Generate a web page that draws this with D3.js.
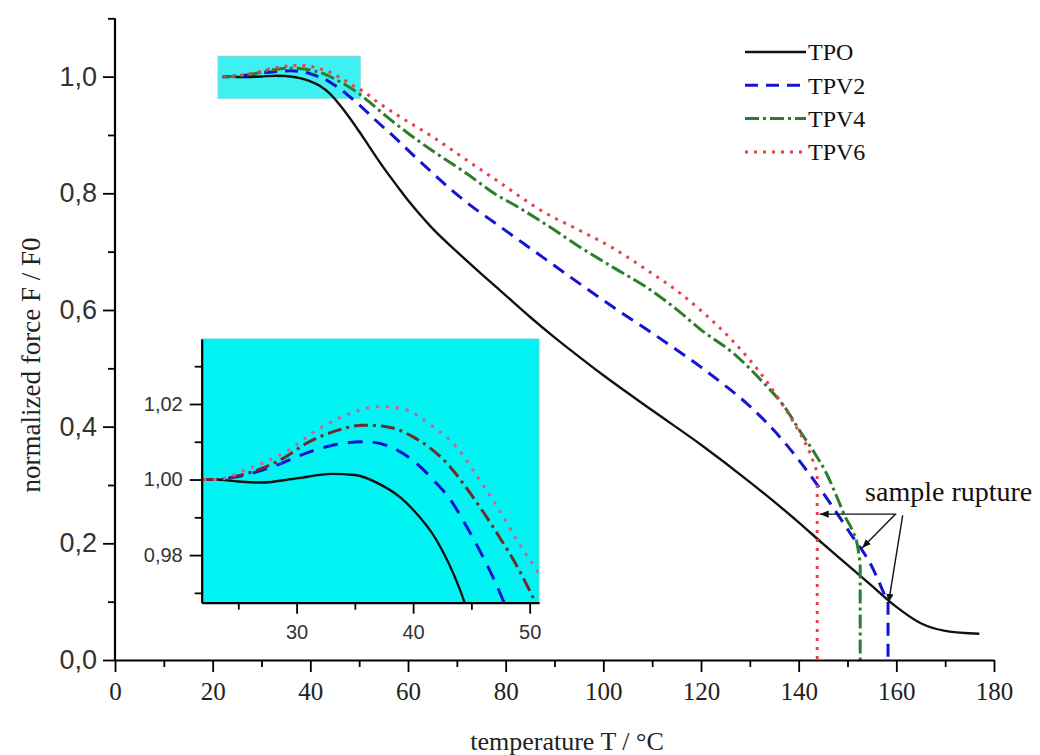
<!DOCTYPE html>
<html><head><meta charset="utf-8">
<script src="https://cdn.jsdelivr.net/npm/d3@7"></script>
<style>
html,body{margin:0;padding:0;background:#fff;}
svg{display:block;}
</style></head>
<body>
<svg id="chart" width="1040" height="755"></svg>
<script>
// ---------------- data ----------------
const seriesNames = ["TPO", "TPV2", "TPV4", "TPV6"];

const tpoT = [22,23,25,27,30,33,35,37,39,40,42,44,46,48,50,52,55,58,60,62,65,70,75,80,85,90,95,100,110,120,130,140,145,150,155,160,165,170,177];
const tpoF = [1.000,1.000,0.9995,0.9992,1.0003,1.0015,1.0012,0.999,0.995,0.992,0.984,0.971,0.952,0.930,0.906,0.881,0.844,0.810,0.788,0.768,0.740,0.700,0.662,0.625,0.588,0.553,0.520,0.488,0.428,0.369,0.305,0.236,0.199,0.163,0.127,0.091,0.063,0.050,0.045];

const tpv2T = [22,23,25,28,31,33,36,38,40,42,43,44.6,46,47.1,48,50,53,57,61,65,69,73,77,82,88,95,102,109,116,120,125,130,137,144,150.5,155,158.3];
const tpv2F = [1.000,1.000,1.0008,1.0035,1.0072,1.009,1.010,1.0087,1.005,0.999,0.9955,0.9875,0.9795,0.9725,0.966,0.952,0.928,0.898,0.866,0.835,0.805,0.778,0.754,0.724,0.688,0.646,0.605,0.566,0.526,0.502,0.470,0.435,0.374,0.298,0.218,0.160,0.097];

const tpv4T = [22,23,25,28.3,31.4,33.5,35.7,37.7,40,42.9,45.1,47.4,49.1,50.4,52,55.7,60,65,72,78,82,88,95,102,109,115,120,126.6,132.7,137,140.3,143,145.8,148,149.5,151,152,152.6];
const tpv4F = [1.000,1.000,1.001,1.0047,1.0105,1.013,1.0144,1.014,1.0113,1.0043,0.9955,0.9848,0.976,0.968,0.957,0.931,0.903,0.873,0.834,0.798,0.779,0.748,0.709,0.673,0.638,0.601,0.566,0.526,0.476,0.435,0.392,0.358,0.318,0.276,0.246,0.222,0.198,0.165];

const tpv6T = [22,23,26,29.1,32,34.3,37.1,38.9,41.7,43.7,45.7,47.4,49.1,50.6,54,58.4,65,72,78,88,95,102,109,115.7,120,126.6,133.5,138.9,142.3,143.8];
const tpv6F = [1.000,1.000,1.003,1.0074,1.0136,1.0171,1.0193,1.0189,1.014,1.0087,0.9999,0.9919,0.983,0.976,0.955,0.931,0.897,0.857,0.823,0.767,0.737,0.706,0.668,0.629,0.599,0.546,0.477,0.408,0.355,0.322];

// temperature at which each sample ruptured (vertical drop to zero), null = no drop
const ruptureT = [null, 158.3, 152.6, 143.8];

// axis ticks
const xTicks = [0,20,40,60,80,100,120,140,160,180];
const xTickLabels = ["0","20","40","60","80","100","120","140","160","180"];
const xMinor = [10,30,50,70,90,110,130,150,170];
const yTicks = [0,0.2,0.4,0.6,0.8,1.0];
const yTickLabels = ["0,0","0,2","0,4","0,6","0,8","1,0"];
const yMinor = [0.1,0.3,0.5,0.7,0.9,1.1];

const insetXTicks = [30,40,50];
const insetXTickLabels = ["30","40","50"];
const insetXMinor = [25,35,45];
const insetYTicks = [0.98,1.00,1.02];
const insetYTickLabels = ["0,98","1,00","1,02"];
const insetYMinor = [0.97,0.99,1.01,1.03];

// zoom window (data units) shown in the inset
const zoomX = [21.1, 50.2];
const zoomY = [0.963, 1.035];

const xTitle = "temperature T / °C";
const yTitle = "normalized force F / F0";
const annotationText = "sample rupture";
// annotation anchor and arrows (data units)
const annotationAt = [153.6, 0.273];
const arrowFrom = [[160.0,0.25],[159.8,0.25],[161.3,0.248]];
const arrowTo   = [[144.3,0.25],[153.0,0.192],[158.4,0.098]];

// ---------------- styles ----------------
const colors = ["#111111", "#1414d2", "#2d7d2d", "#e8404f"];
const insetColors = ["#111111", "#1414d2", "#6e2b2b", "#d65a94"];
const dashes = [null, "13,8", "14,4,3,4", "3,6"];
const insetDashes = [null, "15,10", "14,5,3,5", "3,7"];
const widths = [2.4, 3, 3, 3];

// ---------------- drawing ----------------
const svg = d3.select("#chart");
const serif = "'Liberation Serif', 'Times New Roman', serif";
const sans = "'Liberation Sans', Arial, sans-serif";

const x = d3.scaleLinear().domain([0,180]).range([115,994]);
const y = d3.scaleLinear().domain([0,1.1]).range([660,18.3]);

const allT = [tpoT, tpv2T, tpv4T, tpv6T];
const allF = [tpoF, tpv2F, tpv4F, tpv6F];
const series = seriesNames.map((n,i)=>({name:n, pts: allT[i].map((t,j)=>[t, allF[i][j]]), rupture: ruptureT[i]}));

// zoom highlight rectangle
svg.append("rect")
  .attr("x", x(zoomX[0])).attr("y", y(zoomY[1]))
  .attr("width", x(zoomX[1]) - x(zoomX[0])).attr("height", y(zoomY[0]) - y(zoomY[1]))
  .attr("fill", "#3ff0f0").attr("stroke", "#7ad8d8").attr("stroke-width", 1);

function pathFor(s, xs, ys){
  const ln = d3.line().x(d=>xs(d[0])).y(d=>ys(d[1])).curve(d3.curveMonotoneX);
  let d = ln(s.pts);
  if (s.rupture !== null) d += `L${xs(s.rupture)},${ys(0)}`;
  return d;
}

// main lines
const gLines = svg.append("g");
series.forEach((s,i)=>{
  gLines.append("path").attr("d", pathFor(s, x, y))
    .attr("fill","none").attr("stroke", colors[i]).attr("stroke-width", widths[i])
    .attr("stroke-dasharray", dashes[i]).attr("stroke-linejoin","round");
});

// main axes
const gx = svg.append("g").attr("transform", `translate(0,${y(0)})`);
gx.call(d3.axisBottom(x).tickValues(xTicks).tickSize(12).tickFormat((d,i)=>xTickLabels[i]).tickSizeOuter(0));
gx.append("g").call(d3.axisBottom(x).tickValues(xMinor).tickSize(7).tickFormat(""))
  .select(".domain").remove();
gx.selectAll("text").attr("font-family", serif).attr("font-size", 25).attr("fill","#222").attr("dy", "0.98em");
gx.selectAll(".domain").attr("stroke-width", 2.2);
gx.selectAll("line").attr("stroke-width", 1.8);

const gy = svg.append("g").attr("transform", `translate(${x(0)},0)`);
gy.call(d3.axisLeft(y).tickValues(yTicks).tickSize(12).tickFormat((d,i)=>yTickLabels[i]).tickSizeOuter(0));
gy.append("g").call(d3.axisLeft(y).tickValues(yMinor).tickSize(7).tickFormat(""))
  .select(".domain").remove();
gy.select(".domain").attr("d", `M0,${y(0)}V${y(1.1)}`);
gy.selectAll("text").attr("font-family", sans).attr("font-size", 27).attr("fill","#333").attr("x", -18);
gy.selectAll(".domain").attr("stroke-width", 2.2);
gy.selectAll("line").attr("stroke-width", 1.8);

// axis titles
svg.append("text").attr("x", 567).attr("y", 750).attr("text-anchor","middle")
  .attr("font-family", serif).attr("font-size", 26).attr("fill","#222").text(xTitle);
svg.append("text").attr("transform", "translate(40,365) rotate(-90)").attr("text-anchor","middle")
  .attr("font-family", serif).attr("font-size", 27).attr("fill","#222").text(yTitle);

// legend
const legY0 = 52, legStep = 33.3;
seriesNames.forEach((n,i)=>{
  const ly = legY0 + i*legStep;
  svg.append("line").attr("x1",745).attr("x2",806).attr("y1",ly).attr("y2",ly)
    .attr("stroke", colors[i]).attr("stroke-width", widths[i]).attr("stroke-dasharray", dashes[i]);
  svg.append("text").attr("x",808).attr("y",ly).attr("dy","0.35em")
    .attr("font-family", serif).attr("font-size", 24).attr("fill","#111").text(n);
});

// annotation
const defs = svg.append("defs");
defs.append("marker").attr("id","arr").attr("viewBox","0 0 10 10").attr("refX",10).attr("refY",5)
  .attr("markerWidth",9).attr("markerHeight",9).attr("markerUnits","userSpaceOnUse").attr("orient","auto")
  .append("path").attr("d","M0,1L10,5L0,9Z").attr("fill","#111");
arrowFrom.forEach((f,i)=>{
  svg.append("line").attr("x1",x(f[0])).attr("y1",y(f[1])).attr("x2",x(arrowTo[i][0])).attr("y2",y(arrowTo[i][1]))
    .attr("stroke","#111").attr("stroke-width",1.4).attr("marker-end","url(#arr)");
});
svg.append("text").attr("x", x(annotationAt[0])).attr("y", y(annotationAt[1]))
  .attr("font-family", serif).attr("font-size", 28).attr("fill","#111").text(annotationText);

// ---------------- inset ----------------
const ib = {x0:201.7, x1:539, y0:339, y1:602.7};
const xi = d3.scaleLinear().domain([21.86, 50.8]).range([ib.x0, ib.x1]);
const yi = d3.scaleLinear().domain([0.9674, 1.0372]).range([ib.y1, ib.y0]);

svg.append("rect").attr("x", ib.x0).attr("y", ib.y0).attr("width", ib.x1-ib.x0).attr("height", ib.y1-ib.y0)
  .attr("fill","#00f4f4").attr("stroke","#5fd6d6").attr("stroke-width",1);
defs.append("clipPath").attr("id","insetClip").append("rect")
  .attr("x", ib.x0).attr("y", ib.y0).attr("width", ib.x1-ib.x0).attr("height", ib.y1-ib.y0);
const gi = svg.append("g").attr("clip-path","url(#insetClip)");
series.forEach((s,i)=>{
  gi.append("path").attr("d", pathFor(s, xi, yi))
    .attr("fill","none").attr("stroke", insetColors[i]).attr("stroke-width", widths[i])
    .attr("stroke-dasharray", insetDashes[i]).attr("stroke-linejoin","round");
});

const gix = svg.append("g").attr("transform", `translate(0,${ib.y1})`);
gix.call(d3.axisBottom(xi).tickValues(insetXTicks).tickSize(11).tickFormat((d,i)=>insetXTickLabels[i]).tickSizeOuter(0));
gix.append("g").call(d3.axisBottom(xi).tickValues(insetXMinor).tickSize(7).tickFormat("")).select(".domain").remove();
gix.selectAll("text").attr("font-family", sans).attr("font-size", 20).attr("fill","#333").attr("dy","1.1em");
gix.selectAll(".domain").attr("stroke-width", 2.2);
gix.selectAll("line").attr("stroke-width", 1.8);

const giy = svg.append("g").attr("transform", `translate(${ib.x0},0)`);
giy.call(d3.axisLeft(yi).tickValues(insetYTicks).tickSize(12).tickFormat((d,i)=>insetYTickLabels[i]).tickSizeOuter(0));
giy.append("g").call(d3.axisLeft(yi).tickValues(insetYMinor).tickSize(7).tickFormat("")).select(".domain").remove();
giy.selectAll("text").attr("font-family", sans).attr("font-size", 20).attr("fill","#333").attr("x", -19);
giy.selectAll(".domain").attr("stroke-width", 2.2);
giy.selectAll("line").attr("stroke-width", 1.8);
</script>
</body></html>
